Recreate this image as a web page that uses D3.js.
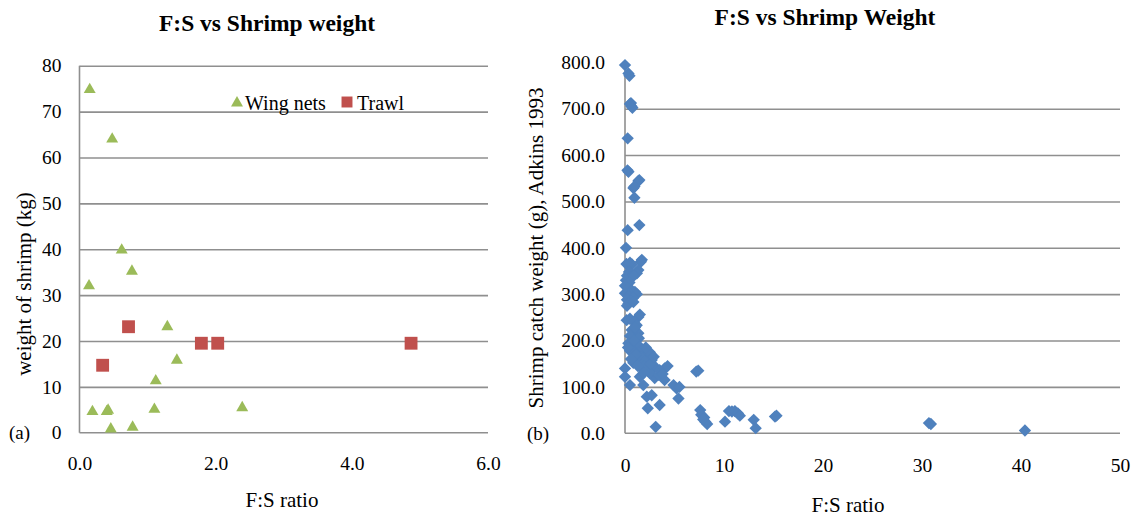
<!DOCTYPE html>
<html>
<head>
<meta charset="utf-8">
<script src="https://cdn.jsdelivr.net/npm/d3@7"></script>
</head>
<body style="margin:0">
<svg id="chart" width="1131" height="517"></svg>
<script>
// ---- Panel (a): F:S ratio vs weight of shrimp, by gear type ----
const wingFS     = [0.15, 0.48, 0.62, 0.77, 0.14, 1.29, 1.43, 1.12, 0.19, 0.40, 0.42, 1.10, 2.39, 0.46, 0.78];
const wingWeight = [74.8, 64.0, 39.8, 35.2, 32.0, 23.1, 15.8, 11.3, 4.6, 4.6, 4.9, 5.1, 5.45, 0.8, 1.2];
const trawlFS     = [0.72, 0.34, 1.79, 2.03, 4.87];
const trawlWeight = [23.1, 14.7, 19.5, 19.5, 19.5];
const xTicksA = [0, 2, 4, 6];
const yTicksA = [0, 10, 20, 30, 40, 50, 60, 70, 80];

// ---- Panel (b): F:S ratio vs shrimp catch weight (Adkins 1993) ----
const adkinsFS = [
  0.0, 0.35, 0.45, 0.5, 0.65, 0.6, 0.75, 0.27, 0.25, 0.35, 1.35, 1.45, 0.85, 0.95, 0.95,
  0.27, 1.45, 0.1, 1.7, 1.6, 0.15, 0.7, 0.5, 0.4, 1.35, 1.2, 0.2, 0.6, 0.9, 0.1, 0.45,
  0.0, 0.3, 0.7, 1.0, 0.0, 0.5, 1.2, 0.35, 0.8, 0.2, 0.6, 0.35, 0.2, 0.85,
  0.17, 0.5, 1.35, 1.5, 0.9, 1.18, 0.67, 1.35, 1.0, 0.5, 1.4,
  0.34, 0.84, 1.35, 1.68, 0.5, 1.0, 2.2, 2.5, 2.7, 1.18, 0.84, 1.6, 2.0, 0.0, 1.68, 3.0,
  2.36, 0.0, 3.5, 4.0, 4.3, 1.5, 3.0, 4.0, 2.5, 2.0, 3.4,
  0.5, 1.85, 4.9, 5.2, 5.5, 5.4, 2.2, 2.7, 3.5, 2.3, 3.1,
  7.2, 7.4, 7.6, 7.7, 8.0, 8.1, 8.3, 7.9, 10.1, 10.5, 10.8, 11.1, 11.4, 11.6, 13.0, 13.2,
  15.15, 15.3, 30.7, 30.9, 40.4,
  1.1, 0.3, 2.6, 1.9, 0.6, 2.9, 1.3, 3.8, 0.9, 2.1
];
const adkinsWeight = [
  794, 776, 771, 710, 705, 712, 702, 636, 567, 564, 544, 546, 529, 532, 508,
  438, 449, 400, 374, 370, 365, 364, 368, 348, 352, 345, 340, 337, 340, 330, 325,
  318, 312, 308, 305, 302, 300, 300, 295, 292, 288, 285, 280, 275, 283,
  244, 247, 251, 256, 240, 233, 223, 216, 228, 210, 205,
  194, 190, 190, 180, 178, 175, 169, 175, 158, 158, 152, 165, 155, 140, 140, 144,
  133, 122, 136, 140, 145, 122, 119, 115, 130, 145, 126,
  104, 104, 104, 97, 100, 75, 79, 82, 61, 54, 14,
  133, 135, 50, 40, 34, 25, 20, 30, 25, 48, 47, 48, 43, 38, 29, 11,
  36, 38, 22, 20, 6,
  170, 185, 150, 130, 160, 165, 145, 128, 200, 185
];
const xTicksB = [0, 10, 20, 30, 40, 50];
const yTicksB = [0, 100, 200, 300, 400, 500, 600, 700, 800];
const gridB   = [100, 200, 300, 400, 500, 600, 700];

const GRID = "#8f8f8f";
const GREEN = "#9bbb59", RED = "#c0504d", BLUE = "#4f81bd";
const svg = d3.select("#chart");

function label(sel, size) {
  return sel.attr("font-size", size).attr("fill", "#000");
}

// ---------- Panel (a) ----------
const xA = d3.scaleLinear().domain([0, 6]).range([79.5, 488]);
const yA = d3.scaleLinear().domain([0, 80]).range([432.7, 65.7]);
const gA = svg.append("g");

gA.append("g")
  .attr("transform", `translate(${xA(0)},0)`)
  .call(d3.axisLeft(yA).tickValues(yTicksA.filter(v => v > 0)).tickSize(-(xA(6) - xA(0))).tickFormat(""))
  .call(g => g.select(".domain").remove())
  .call(g => g.selectAll("line").attr("stroke", GRID).attr("stroke-width", 1.6));

gA.append("line").attr("x1", xA(0)).attr("x2", xA(0)).attr("y1", yA(80)).attr("y2", yA(0))
  .attr("stroke", GRID).attr("stroke-width", 1.6);
gA.append("line").attr("x1", xA(0)).attr("x2", xA(6)).attr("y1", yA(0)).attr("y2", yA(0))
  .attr("stroke", GRID).attr("stroke-width", 1.6);

gA.append("g")
  .attr("transform", `translate(${xA(0)},0)`)
  .call(d3.axisLeft(yA).tickValues(yTicksA).tickSize(0).tickPadding(18).tickFormat(d3.format("d")))
  .call(g => g.select(".domain").remove())
  .call(g => label(g.selectAll("text"), 19.5));

gA.append("g")
  .attr("transform", `translate(0,${yA(0)})`)
  .call(d3.axisBottom(xA).tickValues(xTicksA).tickSize(0).tickFormat(d3.format(".1f")))
  .call(g => g.select(".domain").remove())
  .call(g => label(g.selectAll("text").attr("y", 30.5).attr("dy", "0.35em"), 19.5));

const tri = d3.symbol().type(d3.symbolTriangle).size(62);
const sq  = d3.symbol().type(d3.symbolSquare).size(165);

gA.append("g").selectAll("path").data(trawlFS.map((x, i) => [x, trawlWeight[i]])).join("path")
  .attr("d", sq).attr("transform", d => `translate(${xA(d[0])},${yA(d[1])})`).attr("fill", RED);
gA.append("g").selectAll("path").data(wingFS.map((x, i) => [x, wingWeight[i]])).join("path")
  .attr("d", tri).attr("transform", d => `translate(${xA(d[0])},${yA(d[1])})`).attr("fill", GREEN);

// legend
const legA = gA.append("g");
legA.append("path").attr("d", tri).attr("transform", "translate(237,103)").attr("fill", GREEN);
label(legA.append("text").attr("x", 245).attr("y", 103).attr("dy", "0.35em").text("Wing nets"), 20);
legA.append("path").attr("d", d3.symbol().type(d3.symbolSquare).size(120)).attr("transform", "translate(347,102)").attr("fill", RED);
label(legA.append("text").attr("x", 357).attr("y", 103).attr("dy", "0.35em").text("Trawl"), 20);

label(gA.append("text").attr("x", 267).attr("y", 23).attr("dy", "0.35em").attr("text-anchor", "middle")
  .attr("font-weight", "bold").text("F:S vs Shrimp weight"), 23.5);
label(gA.append("text").attr("x", 282).attr("y", 500).attr("dy", "0.35em").attr("text-anchor", "middle")
  .text("F:S ratio"), 21);
label(gA.append("text").attr("transform", "translate(24,284) rotate(-90)").attr("dy", "0.35em")
  .attr("text-anchor", "middle").text("weight of shrimp (kg)"), 21);
label(gA.append("text").attr("x", 9).attr("y", 432).attr("dy", "0.35em").text("(a)"), 19);

// ---------- Panel (b) ----------
const xB = d3.scaleLinear().domain([0, 50]).range([625, 1120]);
const yB = d3.scaleLinear().domain([0, 800]).range([433.3, 62.3]);
const gB = svg.append("g");

gB.append("g")
  .attr("transform", `translate(${xB(0)},0)`)
  .call(d3.axisLeft(yB).tickValues(gridB).tickSize(-(xB(50) - xB(0))).tickFormat(""))
  .call(g => g.select(".domain").remove())
  .call(g => g.selectAll("line").attr("stroke", GRID).attr("stroke-width", 1.6));

gB.append("line").attr("x1", xB(0)).attr("x2", xB(0)).attr("y1", yB(800)).attr("y2", yB(0))
  .attr("stroke", GRID).attr("stroke-width", 1.6);
gB.append("line").attr("x1", xB(0)).attr("x2", xB(50)).attr("y1", yB(0)).attr("y2", yB(0))
  .attr("stroke", GRID).attr("stroke-width", 1.6);

gB.append("g")
  .attr("transform", `translate(${xB(0)},0)`)
  .call(d3.axisLeft(yB).tickValues(yTicksB).tickSize(0).tickPadding(20).tickFormat(d3.format(".1f")))
  .call(g => g.select(".domain").remove())
  .call(g => label(g.selectAll("text"), 19.5));

gB.append("g")
  .attr("transform", `translate(0,${yB(0)})`)
  .call(d3.axisBottom(xB).tickValues(xTicksB).tickSize(0).tickFormat(d3.format("d")))
  .call(g => g.select(".domain").remove())
  .call(g => label(g.selectAll("text").attr("y", 31.5).attr("dy", "0.35em"), 19.5));

const diamond = d3.symbol().type(d3.symbolSquare).size(76);
gB.append("g").selectAll("path").data(adkinsFS.map((x, i) => [x, adkinsWeight[i]])).join("path")
  .attr("d", diamond)
  .attr("transform", d => `translate(${xB(d[0])},${yB(d[1])}) rotate(45)`)
  .attr("fill", BLUE);

label(gB.append("text").attr("x", 825).attr("y", 17).attr("dy", "0.35em").attr("text-anchor", "middle")
  .attr("font-weight", "bold").text("F:S vs Shrimp Weight"), 23.5);
label(gB.append("text").attr("x", 848).attr("y", 505).attr("dy", "0.35em").attr("text-anchor", "middle")
  .text("F:S ratio"), 21);
label(gB.append("text").attr("transform", "translate(536,248) rotate(-90)").attr("dy", "0.35em")
  .attr("text-anchor", "middle").text("Shrimp catch weight (g), Adkins 1993"), 21);
label(gB.append("text").attr("x", 527).attr("y", 433).attr("dy", "0.35em").text("(b)"), 19);

// serif face for every label (axis groups carry their own sans-serif default)
svg.selectAll("g").attr("font-family", null);
svg.selectAll("text").style("font-family", "Liberation Serif");
</script>
</body>
</html>
